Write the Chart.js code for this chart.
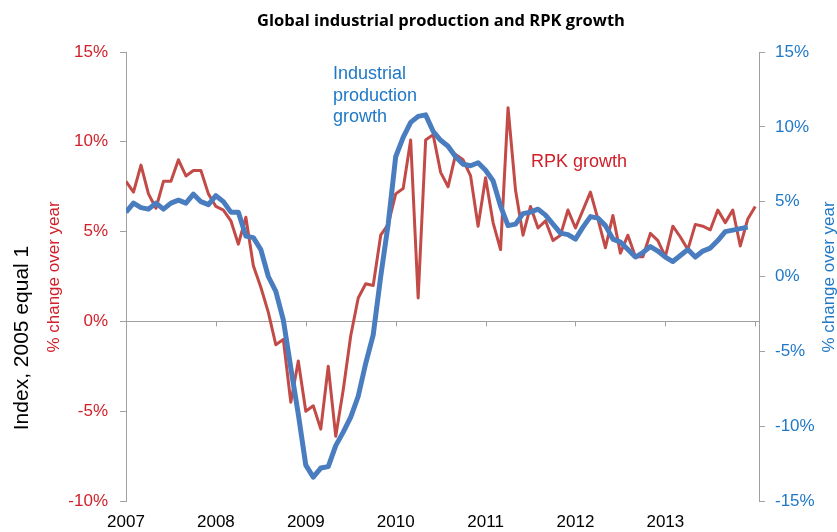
<!DOCTYPE html>
<html>
<head>
<meta charset="utf-8">
<title>Global industrial production and RPK growth</title>
<script src="https://cdn.jsdelivr.net/npm/chart.js@4.4.1/dist/chart.umd.min.js"></script>
<style>
  html, body { margin: 0; padding: 0; background: #fff; }
  #wrap { width: 837px; height: 532px; }
</style>
</head>
<body>
<div id="wrap"><canvas id="ip-rpk" width="837" height="532"></canvas></div>
<script>
// monthly, Jan 2007 onwards
var firstYear = 2007;
var yearTicks = [2007, 2008, 2009, 2010, 2011, 2012, 2013];

// RPK growth, % change over year (left axis), Jan 2007 - Jan 2014
var rpkGrowth = [
  7.8, 7.2, 8.7, 7.1, 6.3, 7.8, 7.8, 9.0, 8.1, 8.4, 8.4, 7.1,
  6.4, 6.2, 5.6, 4.3, 5.8, 3.1, 1.9, 0.5, -1.3, -1.0, -4.5, -2.2,
  -5.0, -4.7, -6.0, -2.5, -6.4, -3.8, -0.8, 1.3, 2.1, 2.0, 4.8, 5.4,
  7.1, 7.4, 10.1, 1.3, 10.1, 10.4, 8.3, 7.5, 9.3, 9.0, 8.1, 5.3,
  8.0, 5.5, 4.0, 11.9, 7.3, 4.8, 6.4, 5.2, 5.6, 4.5, 4.8, 6.2,
  5.2, 6.2, 7.2, 5.7, 4.1, 5.9, 3.8, 4.8, 3.6, 3.6, 4.9, 4.5,
  3.6, 5.3, 4.7, 4.0, 5.4, 5.3, 5.1, 6.2, 5.5, 6.2, 4.2, 5.7,
  6.4
];

// industrial production growth, % change over year (right axis), Jan 2007 - Dec 2013
var ipGrowth = [
  4.3, 4.9, 4.6, 4.5, 4.9, 4.5, 4.9, 5.1, 4.9, 5.5, 5.0, 4.8,
  5.4, 5.0, 4.3, 4.3, 2.7, 2.6, 1.8, 0.0, -1.0, -2.9, -6.1, -9.2,
  -12.6, -13.4, -12.8, -12.7, -11.3, -10.4, -9.4, -8.0, -5.8, -3.9, 0.0, 3.5,
  8.0, 9.3, 10.3, 10.7, 10.8, 9.7, 9.1, 8.7, 8.0, 7.5, 7.4, 7.6,
  7.1, 6.4, 4.7, 3.4, 3.5, 4.2, 4.3, 4.5, 4.1, 3.5, 2.9, 2.8,
  2.5, 3.3, 4.0, 3.9, 3.4, 2.5, 2.3, 1.8, 1.3, 1.6, 2.0, 1.7,
  1.3, 1.0, 1.4, 1.8, 1.3, 1.7, 1.9, 2.4, 3.0, 3.1, 3.2, 3.3
];

var FONT = "'Liberation Sans', Arial, sans-serif";
var RED_TEXT = "#d0202a";
var BLUE_TEXT = "#1f78c6";
var AXIS_GREY = "#a0a0a0";

function toPoints(arr) {
  return arr.map(function (v, i) { return { x: i, y: v }; });
}

var textPlugin = {
  id: 'chartText',
  beforeDatasetsDraw: function (chart) {
    // little year ticks hanging off the zero line
    var c = chart.ctx, xs = chart.scales.x, yl = chart.scales.yL;
    var y0 = yl.getPixelForValue(0);
    c.save();
    c.strokeStyle = AXIS_GREY;
    c.lineWidth = 1;
    for (var m = 12; m <= 84; m += 12) {
      var px = Math.round(xs.getPixelForValue(m)) + 0.5;
      c.beginPath();
      c.moveTo(px, y0);
      c.lineTo(px, y0 + 5);
      c.stroke();
    }
    c.restore();
  },
  afterDraw: function (chart) {
    var c = chart.ctx;
    c.save();
    c.fillStyle = '#000';
    c.font = "bold 16.5px 'Open Sans', sans-serif";
    c.textAlign = 'center';
    c.textBaseline = 'middle';
    c.fillText('Global industrial production and RPK growth', 441, 21);

    function vtext(txt, x, y, font, color) {
      c.save();
      c.translate(x, y);
      c.rotate(-Math.PI / 2);
      c.font = font;
      c.fillStyle = color;
      c.textAlign = 'center';
      c.textBaseline = 'middle';
      c.fillText(txt, 0, 0);
      c.restore();
    }
    vtext('Index, 2005 equal 1', 22, 338, '21px ' + FONT, '#000');
    vtext('% change over year', 54, 277, '17px ' + FONT, RED_TEXT);
    vtext('% change over year', 829, 277, '17px ' + FONT, BLUE_TEXT);

    c.font = '18px ' + FONT;
    c.textAlign = 'left';
    c.textBaseline = 'middle';
    c.fillStyle = BLUE_TEXT;
    c.fillText('Industrial', 333, 74);
    c.fillText('production', 333, 96);
    c.fillText('growth', 333, 117);
    c.fillStyle = RED_TEXT;
    c.fillText('RPK growth', 531, 162);
    c.restore();
  }
};

var chart = new Chart(document.getElementById('ip-rpk'), {
  type: 'line',
  data: {
    datasets: [
      {
        label: 'Industrial production growth',
        data: toPoints(ipGrowth),
        yAxisID: 'yR',
        borderColor: '#4a7dbf',
        borderWidth: 5,
        pointRadius: 0,
        tension: 0,
        borderJoinStyle: 'round'
      },
      {
        label: 'RPK growth',
        data: toPoints(rpkGrowth),
        yAxisID: 'yL',
        borderColor: '#c24b48',
        borderWidth: 3,
        pointRadius: 0,
        tension: 0,
        borderJoinStyle: 'round'
      }
    ]
  },
  options: {
    responsive: false,
    animation: false,
    layout: { padding: { top: 52, left: 0, right: 0, bottom: 0 } },
    plugins: {
      legend: { display: false },
      tooltip: { enabled: false },
      title: { display: false }
    },
    scales: {
      x: {
        type: 'linear',
        min: 0,
        max: 84.5,
        grid: { display: false },
        border: { display: false },
        ticks: {
          stepSize: 12,
          autoSkip: false,
          maxRotation: 0,
          padding: 3,
          color: '#000',
          font: { family: FONT, size: 17 },
          callback: function (v) {
            var yr = firstYear + v / 12;
            return yearTicks.indexOf(yr) >= 0 ? String(yr) : '';
          }
        },
        afterFit: function (s) { s.height = 31; }
      },
      yL: {
        position: 'left',
        min: -10,
        max: 15,
        grid: {
          drawOnChartArea: true,
          color: function (ctx) { return ctx.tick && ctx.tick.value === 0 ? AXIS_GREY : 'rgba(0,0,0,0)'; },
          tickColor: AXIS_GREY,
          tickLength: 6
        },
        border: { display: true, color: AXIS_GREY },
        ticks: {
          stepSize: 5,
          padding: 12,
          color: RED_TEXT,
          font: { family: FONT, size: 17 },
          callback: function (v) { return v + '%'; }
        },
        afterFit: function (s) { s.width = 126; }
      },
      yR: {
        position: 'right',
        min: -15,
        max: 15,
        grid: { drawOnChartArea: false, tickColor: AXIS_GREY, color: AXIS_GREY, tickLength: 6 },
        border: { display: true, color: AXIS_GREY },
        ticks: {
          stepSize: 5,
          padding: 10,
          color: BLUE_TEXT,
          font: { family: FONT, size: 17 },
          callback: function (v) { return v + '%'; }
        },
        afterFit: function (s) { s.width = 78; }
      }
    }
  },
  plugins: [textPlugin]
});
</script>
</body>
</html>
